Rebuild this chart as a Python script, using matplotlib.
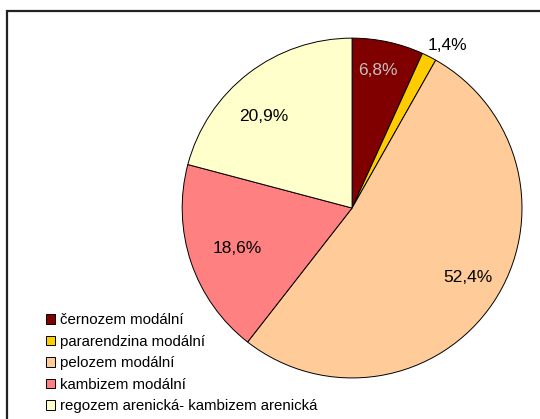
import numpy as np
import matplotlib
matplotlib.use("Agg")
import matplotlib.pyplot as plt
from matplotlib.patches import Rectangle

plt.rcParams['font.family'] = ['Liberation Sans', 'DejaVu Sans']

# soil types and shares (%)
labels = ["černozem modální", "pararendzina modální", "pelozem modální",
          "kambizem modální", "regozem arenická- kambizem arenická"]
values = [6.8, 1.4, 52.4, 18.6, 20.9]
pct_text = ["6,8%", "1,4%", "52,4%", "18,6%", "20,9%"]
colors = ["#800000", "#FFCC00", "#FFCC99", "#FF8080", "#FFFFCC"]
text_colors = ["#C0C0C0", "black", "black", "black", "black"]
# label placement: radius and angle shift from wedge middle
label_r = [0.825, 1.11, 0.795, 0.716, 0.75]
label_shift = [1.5, -3.5, 2.6, 0.8, 6.4]

fig = plt.figure(figsize=(5.4, 4.19), dpi=100)
ax = fig.add_axes([0.337, 0.098, 0.63, 0.811])

wedges, _ = ax.pie(values, colors=colors, startangle=90, counterclock=False,
                   wedgeprops=dict(edgecolor="black", linewidth=0.7))
ax.set_xlim(-1, 1)
ax.set_ylim(-1, 1)
ax.set_aspect("equal")

for w, t, c, r, s in zip(wedges, pct_text, text_colors, label_r, label_shift):
    ang = np.deg2rad((w.theta1 + w.theta2) / 2 + s)
    ax.text(r * np.cos(ang), r * np.sin(ang), t, ha="center", va="center",
            fontsize=12.5, color=c)

# outer frame
fig.patches.append(Rectangle((7 / 540, -0.1), 1.2, 1.1 - 11 / 419,
                             transform=fig.transFigure, fill=False,
                             edgecolor="#222222", linewidth=1.6))

handles = [Rectangle((0, 0), 1, 1, facecolor=c, edgecolor="black", linewidth=0.7)
           for c in colors]
fig.legend(handles, labels, loc="upper left", bbox_to_anchor=(0.085, 0.252),
           frameon=False, fontsize=10.8, handlelength=0.6, handleheight=0.6,
           handletextpad=0.35, labelspacing=0.5, borderaxespad=0, borderpad=0)

fig.savefig("out.png", dpi=100)
